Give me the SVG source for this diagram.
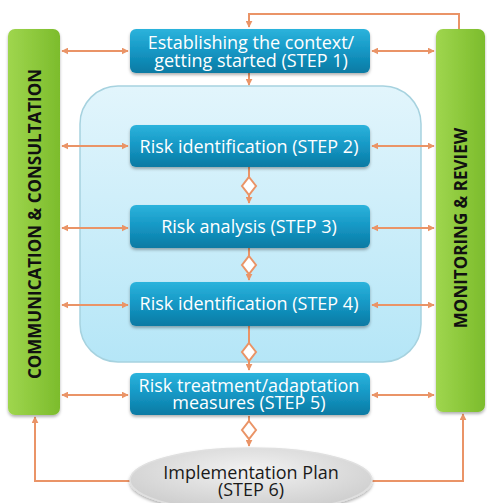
<svg xmlns="http://www.w3.org/2000/svg" width="487" height="503" viewBox="0 0 487 503">
<defs>
<linearGradient id="gBox" x1="0" y1="0" x2="0" y2="1">
<stop offset="0" stop-color="#2cb3dc"/><stop offset="0.5" stop-color="#1597c4"/><stop offset="1" stop-color="#0a7aa3"/>
</linearGradient>
<linearGradient id="gGreen" x1="0" y1="0" x2="1" y2="0">
<stop offset="0" stop-color="#9fd64e"/><stop offset="1" stop-color="#7cbc2c"/>
</linearGradient>
<linearGradient id="gRegion" x1="0" y1="0" x2="0" y2="1">
<stop offset="0" stop-color="#e2f5fc"/><stop offset="1" stop-color="#b5e6f7"/>
</linearGradient>
<radialGradient id="gEll" cx="0.5" cy="0.35" r="0.6">
<stop offset="0" stop-color="#f2f2f2"/><stop offset="1" stop-color="#cfcfcf"/>
</radialGradient>
<filter id="sh" x="-10%" y="-20%" width="120%" height="150%">
<feDropShadow dx="0" dy="2" stdDeviation="1.5" flood-color="#000" flood-opacity="0.3"/>
</filter>
<marker id="ah" viewBox="0 0 10 10" refX="9" refY="5" markerWidth="7" markerHeight="7" orient="auto-start-reverse" markerUnits="userSpaceOnUse">
<path d="M0,0 L10,5 L0,10 z" fill="#ea9467"/>
</marker>
</defs>
<style>
.box{fill:url(#gBox);filter:url(#sh)}
.bt{font-family:"Open Sans","Liberation Sans",sans-serif;font-size:18px;fill:#fff;text-anchor:middle}
.bar{fill:url(#gGreen);filter:url(#sh)}
.vt{font-family:"Open Sans","Liberation Sans",sans-serif;font-weight:bold;font-size:17px;fill:#111;text-anchor:middle}
.c{fill:none;stroke:#ea9467;stroke-width:2}
.dm{fill:#fff;stroke:#ea9467;stroke-width:2}
</style>
<g id="region"><rect x="80" y="86" width="341" height="276" rx="38" fill="url(#gRegion)" stroke="#a6d2df" stroke-width="1.5"/></g>
<g id="connectors">
<path class="c" d="M459,29 V14 H249 V27" marker-end="url(#ah)"/>
<path class="c" d="M249,73 V85" marker-end="url(#ah)"/>
<path class="c" d="M249,167 V203" marker-end="url(#ah)"/>
<path class="c" d="M249,248 V280" marker-end="url(#ah)"/>
<path class="c" d="M249,326 V370" marker-end="url(#ah)"/>
<path class="c" d="M249,416 V446" marker-end="url(#ah)"/>
<path class="c" d="M130,481 H35 V417" marker-end="url(#ah)"/>
<path class="c" d="M372,481 H463 V414" marker-end="url(#ah)"/>
<path class="c" d="M62,51 H128" marker-start="url(#ah)" marker-end="url(#ah)"/>
<path class="c" d="M62,146 H128" marker-start="url(#ah)" marker-end="url(#ah)"/>
<path class="c" d="M62,228 H128" marker-start="url(#ah)" marker-end="url(#ah)"/>
<path class="c" d="M62,305 H128" marker-start="url(#ah)" marker-end="url(#ah)"/>
<path class="c" d="M62,395 H128" marker-start="url(#ah)" marker-end="url(#ah)"/>
<path class="c" d="M372,51 H434" marker-start="url(#ah)" marker-end="url(#ah)"/>
<path class="c" d="M372,146 H434" marker-start="url(#ah)" marker-end="url(#ah)"/>
<path class="c" d="M372,228 H434" marker-start="url(#ah)" marker-end="url(#ah)"/>
<path class="c" d="M372,305 H434" marker-start="url(#ah)" marker-end="url(#ah)"/>
<path class="c" d="M372,395 H434" marker-start="url(#ah)" marker-end="url(#ah)"/>
<path class="dm" d="M249,177 L256,186 L249,195 L242,186 z"/>
<path class="dm" d="M249,256 L256,265 L249,274 L242,265 z"/>
<path class="dm" d="M249,343 L256,352 L249,361 L242,352 z"/>
<path class="dm" d="M249,421 L256,430 L249,439 L242,430 z"/>
</g>
<g id="comm"><rect class="bar" x="8" y="29" width="52" height="386" rx="7"/>
<text class="vt" transform="translate(41,224) rotate(-90)">COMMUNICATION &amp; CONSULTATION</text></g>
<g id="monitor"><rect class="bar" x="436" y="29" width="49" height="383" rx="7"/>
<text class="vt" transform="translate(467,228) rotate(-90)">MONITORING &amp; REVIEW</text></g>
<g id="step1"><rect class="box" x="130" y="29" width="240" height="44" rx="6"/>
<text class="bt" x="251" y="49">Establishing the context/</text>
<text class="bt" x="251" y="67">getting started (STEP 1)</text></g>
<g id="step2"><rect class="box" x="130" y="125" width="240" height="42" rx="6"/>
<text class="bt" x="249" y="153">Risk identification (STEP 2)</text></g>
<g id="step3"><rect class="box" x="130" y="205" width="240" height="43" rx="6"/>
<text class="bt" x="249" y="233">Risk analysis (STEP 3)</text></g>
<g id="step4"><rect class="box" x="130" y="282" width="240" height="44" rx="6"/>
<text class="bt" x="249" y="310">Risk identification (STEP 4)</text></g>
<g id="step5"><rect class="box" x="130" y="373" width="240" height="42" rx="6"/>
<text class="bt" x="249" y="392">Risk treatment/adaptation</text>
<text class="bt" x="249" y="409">measures (STEP 5)</text></g>
<g id="step6"><ellipse cx="251" cy="480" rx="121" ry="32" fill="url(#gEll)" stroke="#e0e0e0" stroke-width="1.5" filter="url(#sh)"/>
<text class="bt" x="251" y="479" style="fill:#1a1a1a">Implementation Plan</text>
<text class="bt" x="251" y="496" style="fill:#1a1a1a">(STEP 6)</text></g>
</svg>
